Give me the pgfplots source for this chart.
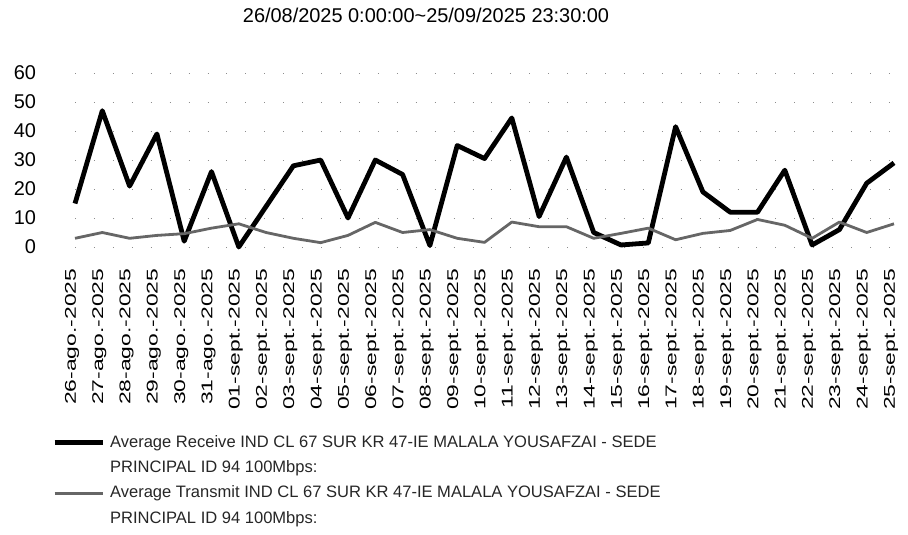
\documentclass[border=0pt]{standalone}
\usepackage{pgfplots}
\pgfplotsset{compat=1.18}
\usepackage{pgfplotstable}
\usepackage{fontspec}
\setmainfont{Liberation Sans}
\newfontfamily\xlabfont[FakeStretch=1.47]{Liberation Sans}
\pgfplotstableread{
x rec tra
0 15 3
1 47 5
2 21 3
3 39 4
4 2 4.6
5 26 6.5
6 0 8
7 14 5
8 28 3
9 30 1.5
10 10 4
11 30 8.5
12 25 5
13 0.5 6
14 35 3
15 30.5 1.6
16 44.5 8.6
17 10.5 7
18 31 7
19 5 3
20 0.7 4.7
21 1.4 6.5
22 41.5 2.5
23 19 4.7
24 12 5.7
25 12 9.5
26 26.5 7.5
27 0.7 3
28 6 8.6
29 22 5
30 29 8
}\data
\begin{document}
\begin{tikzpicture}
\path[use as bounding box] (0,0) rectangle (454bp,-267.5bp);
\begin{axis}[
  at={(37.5bp,-123.5bp)}, anchor=south west,
  scale only axis, width=409.5bp, height=87bp,
  xmin=0, xmax=30, ymin=0, ymax=60,
  ytick={0,10,...,60},
  xtick={0,...,30},
  xticklabels={26-ago.-2025,27-ago.-2025,28-ago.-2025,29-ago.-2025,30-ago.-2025,31-ago.-2025,01-sept.-2025,02-sept.-2025,03-sept.-2025,04-sept.-2025,05-sept.-2025,06-sept.-2025,07-sept.-2025,08-sept.-2025,09-sept.-2025,10-sept.-2025,11-sept.-2025,12-sept.-2025,13-sept.-2025,14-sept.-2025,15-sept.-2025,16-sept.-2025,17-sept.-2025,18-sept.-2025,19-sept.-2025,20-sept.-2025,21-sept.-2025,22-sept.-2025,23-sept.-2025,24-sept.-2025,25-sept.-2025},
  /pgf/number format/assume math mode=true,
  axis line style={draw=none},
  major tick length=0pt,
  ymajorgrids,
  grid style={black!45, line width=0.5pt, dash pattern=on 0.5pt off 9pt},
  yticklabel style={font=\fontsize{10}{12}\selectfont, xshift=-16bp},
  xticklabel style={font=\xlabfont\fontsize{7.8}{9}\selectfont, yshift=-7.4bp, xshift=-1.5bp, rotate=90, anchor=east},
  every axis title shift=0pt,
  title={26/08/2025 0:00:00\textasciitilde 25/09/2025 23:30:00},
  title style={at={(0.4286,1.333)}, anchor=center, font=\fontsize{10}{12}\selectfont},
  legend style={at={(-0.0355,-1.05)}, anchor=north west, draw=none, fill=none,
    font=\fontsize{8.3}{13}\selectfont, nodes={align=left, inner sep=0.5pt},
    row sep=4bp, text=black!85},
  legend cell align=left,
  legend image code/.code={\draw[#1] (0bp,6.5bp) -- (24bp,6.5bp); \path (26bp,0bp);},
  clip=false,
]
\addplot[black, line width=2.4bp, line join=round] table[x=x, y=rec] {\data};
\addlegendentry{Average Receive IND CL 67 SUR KR 47-IE MALALA YOUSAFZAI - SEDE\\PRINCIPAL ID 94 100Mbps:}
\addplot[black!60, line width=1.4bp, line join=round] table[x=x, y=tra] {\data};
\addlegendentry{Average Transmit IND CL 67 SUR KR 47-IE MALALA YOUSAFZAI - SEDE\\PRINCIPAL ID 94 100Mbps:}
\end{axis}
\end{tikzpicture}
\end{document}
